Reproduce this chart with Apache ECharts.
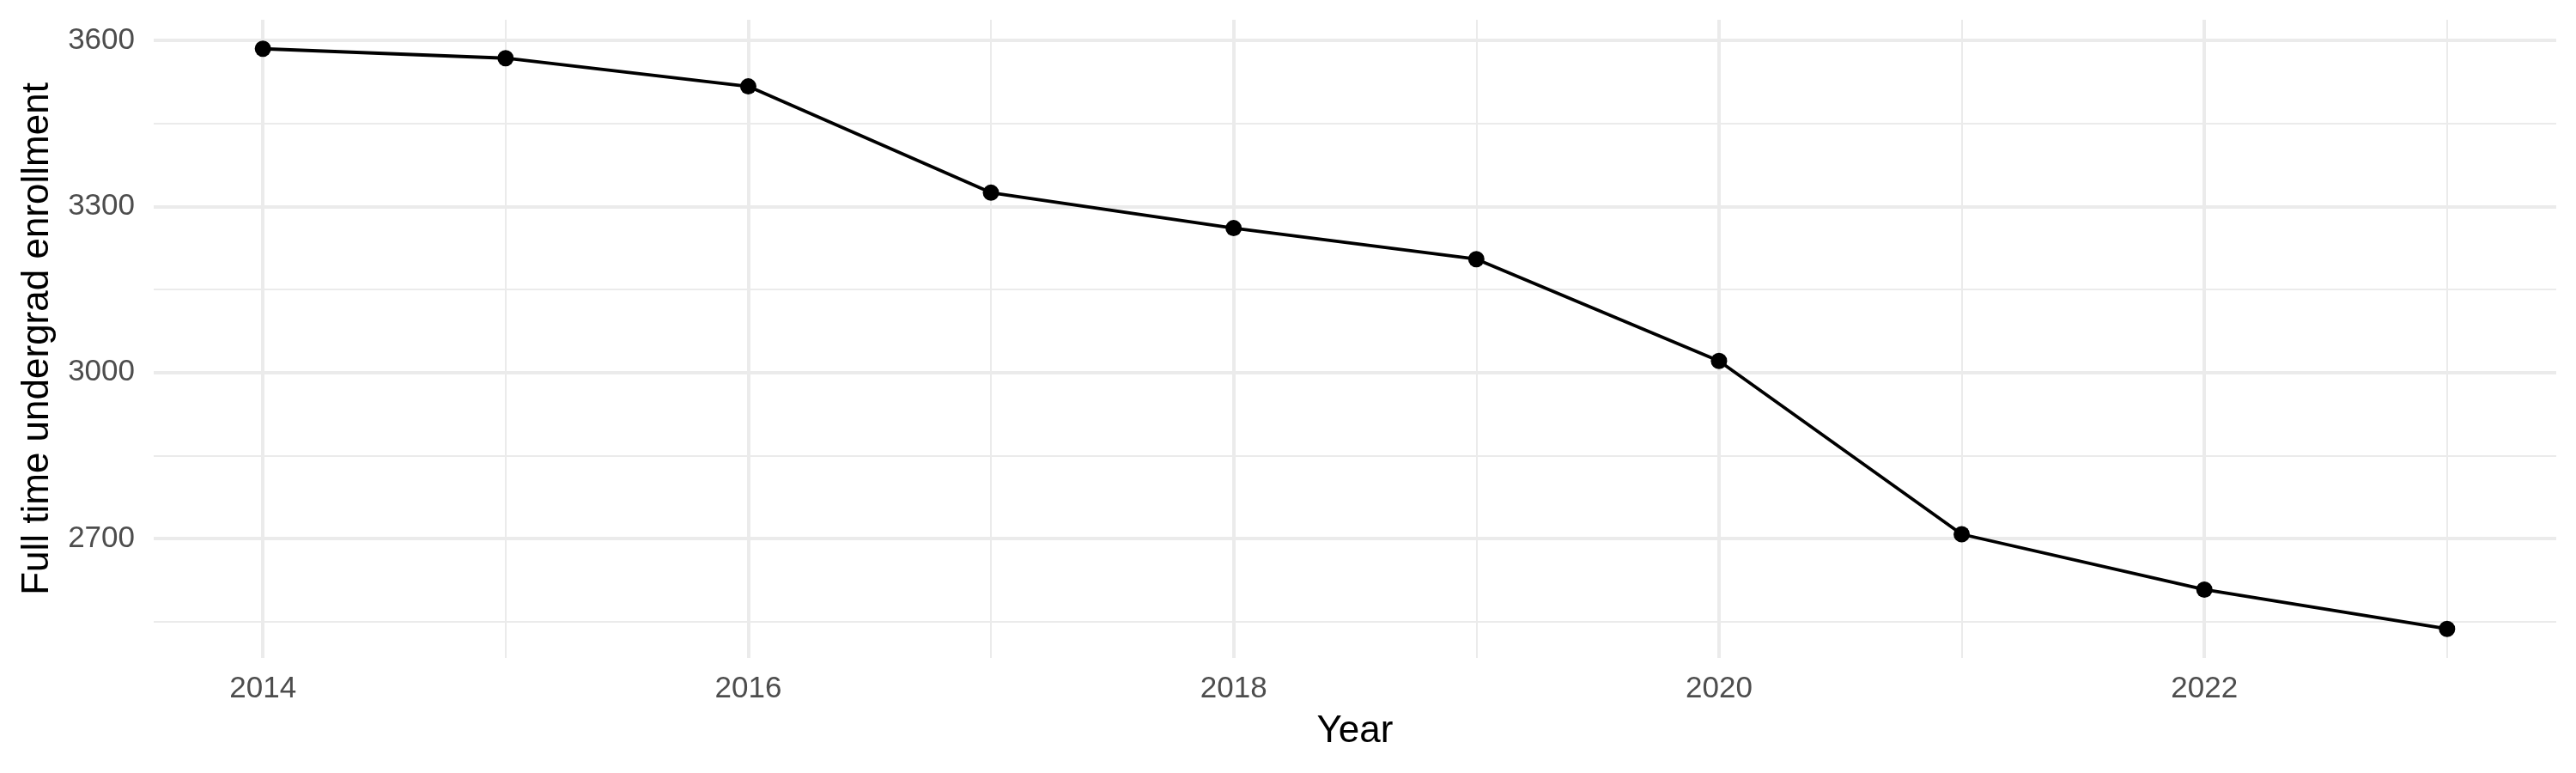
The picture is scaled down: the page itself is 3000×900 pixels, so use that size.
<!DOCTYPE html>
<html>
<head>
<meta charset="utf-8">
<script src="https://cdn.jsdelivr.net/npm/echarts@6/dist/echarts.min.js"></script>
<style>
  html, body { margin: 0; padding: 0; background: #ffffff; }
  #chart { width: 3000px; height: 900px; }
</style>
</head>
<body>
<div id="chart"></div>
<script>
// ---- data ----
const years = [2014, 2015, 2016, 2017, 2018, 2019, 2020, 2021, 2022, 2023];
const enrollment = [3585, 3568, 3517, 3325, 3261, 3205, 3021, 2708, 2608, 2537];
const xMajorTicks = [2014, 2016, 2018, 2020, 2022];
const xMinorTicks = [2015, 2017, 2019, 2021, 2023];
const yMajorTicks = [2700, 3000, 3300, 3600];
const yMinorTicks = [2550, 2850, 3150, 3450];

// ggplot-style 5% expansion of the data range
const xSpan = Math.max(...years) - Math.min(...years);
const xMin = Math.min(...years) - 0.05 * xSpan;
const xMax = Math.max(...years) + 0.05 * xSpan;
const ySpan = Math.max(...enrollment) - Math.min(...enrollment);
const yMin = Math.min(...enrollment) - 0.05 * ySpan;
const yMax = Math.max(...enrollment) + 0.05 * ySpan;

const FONT = 'Liberation Sans';
const majorLine = { color: '#ebebeb', width: 4 };
const minorLine = { color: '#ebebeb', width: 2 };
const plain = v => String(Math.round(v));

const chart = echarts.init(document.getElementById('chart'), null, { renderer: 'canvas' });
chart.setOption({
  animation: false,
  backgroundColor: '#ffffff',
  textStyle: { fontFamily: FONT },
  grid: { left: 179, right: 23, top: 23, bottom: 134, containLabel: false },
  xAxis: [
    {
      type: 'value', min: xMin, max: xMax,
      name: 'Year', nameLocation: 'middle', nameGap: 64,
      nameTextStyle: { fontSize: 44, color: '#000000', fontFamily: FONT },
      axisLine: { show: false },
      axisTick: { show: false, customValues: xMajorTicks },
      axisLabel: { customValues: xMajorTicks, formatter: plain, fontSize: 35, color: '#4d4d4d', margin: 19, fontFamily: FONT },
      splitLine: { show: true, lineStyle: majorLine, customValues: xMajorTicks }
    },
    {
      type: 'value', min: xMin, max: xMax, position: 'bottom',
      axisLine: { show: false },
      axisTick: { show: false, customValues: xMinorTicks },
      axisLabel: { show: false, customValues: xMinorTicks },
      splitLine: { show: true, lineStyle: minorLine, customValues: xMinorTicks }
    }
  ],
  yAxis: [
    {
      type: 'value', min: yMin, max: yMax,
      name: 'Full time undergrad enrollment', nameLocation: 'middle', nameGap: 113,
      nameTextStyle: { fontSize: 44, color: '#000000', fontFamily: FONT },
      axisLine: { show: false },
      axisTick: { show: false, customValues: yMajorTicks },
      axisLabel: { customValues: yMajorTicks, formatter: plain, fontSize: 35, color: '#4d4d4d', margin: 22, fontFamily: FONT },
      splitLine: { show: true, lineStyle: majorLine, customValues: yMajorTicks }
    },
    {
      type: 'value', min: yMin, max: yMax, position: 'left',
      axisLine: { show: false },
      axisTick: { show: false, customValues: yMinorTicks },
      axisLabel: { show: false, customValues: yMinorTicks },
      splitLine: { show: true, lineStyle: minorLine, customValues: yMinorTicks }
    }
  ],
  series: [
    {
      type: 'line',
      xAxisIndex: 0, yAxisIndex: 0,
      data: years.map((y, i) => [y, enrollment[i]]),
      symbol: 'circle', symbolSize: 19,
      itemStyle: { color: '#000000' },
      lineStyle: { color: '#000000', width: 3.8 },
      z: 5
    }
  ]
});
</script>
</body>
</html>
